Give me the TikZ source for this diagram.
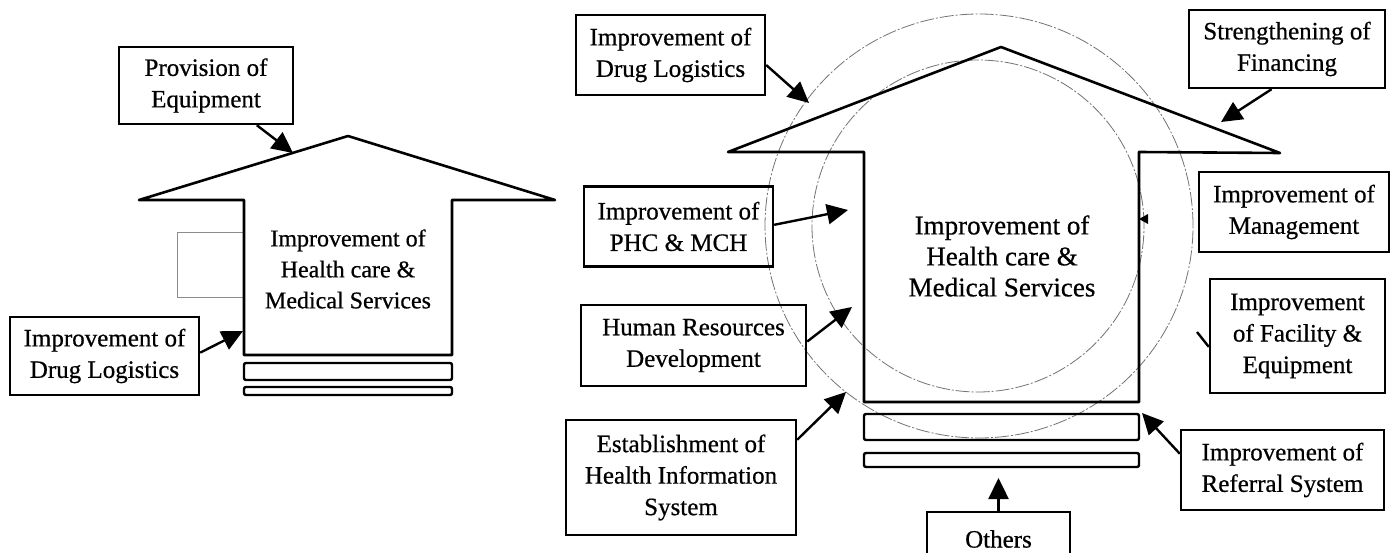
\documentclass[tikz,border=0pt]{standalone}
\usepackage{fontspec}
\setmainfont{Liberation Serif}[FakeBold=0.6]
\usetikzlibrary{arrows.meta}
\begin{document}
\begin{tikzpicture}[x=1pt,y=-1pt,
  box/.style={draw, line width=2.4pt, align=center, inner sep=0pt, font=\fontsize{25}{31.5}\selectfont},
  arr/.style={line width=2.4pt, -{Triangle[length=21pt,width=20pt]}},
  ring/.style={draw=black!55, line width=0.8pt, dash pattern=on 14pt off 2pt on 2pt off 2pt},
  house/.style={draw, line width=2.6pt, line join=round},
  bar/.style={draw, line width=2.4pt, rounded corners=2pt},
  faint/.style={draw=black!45, line width=0.9pt},
  bodytext/.style={align=center, inner sep=0pt}
]
\clip (0,0) rectangle (1396,553);
\fill[white] (0,0) rectangle (1396,553);

% ---------- left house ----------
\draw[faint] (244,232) -- (177,232) -- (177,297) -- (244,297);
\draw[house] (139,200) -- (348,136) -- (555,200) -- (452,200) -- (452,355) -- (244,355) -- (244,200) -- cycle;
\draw[bar] (244,363) rectangle (452,380);
\draw[bar] (244,387) rectangle (452,395);
\node[bodytext, font=\fontsize{24}{31}\selectfont] (ltext) at (348,269) {Improvement of\\Health care \&\\Medical Services};

\node[box, minimum width=174pt, minimum height=77pt] (prov) at (206,85.5) {Provision of\\Equipment};
\node[box, minimum width=189pt, minimum height=78pt] (ldrug) at (104.5,356) {Improvement of\\Drug Logistics};
\coordinate (tProv) at (293,153);
\coordinate (tLdrug) at (243,331);
\draw[arr] (prov.-38.7) -- (tProv);
\draw[arr] (ldrug.2.4) -- (tLdrug);

% ---------- right house ----------
\draw[ring] (979,226) ellipse[x radius=214pt, y radius=212pt];
\draw[ring] (978,226) circle[radius=166pt];
\draw[house] (728,152) -- (1001,47) -- (1280,153) -- (1139,152) -- (1139,402) -- (864,402) -- (864,152) -- cycle;
\draw[bar] (864,414) rectangle (1139,440);
\draw[bar] (864,453) rectangle (1139,467);
\node[bodytext, font=\fontsize{27}{31}\selectfont] (rtext) at (1002,256) {Improvement of\\Health care \&\\Medical Services};

\node[box, minimum width=189pt, minimum height=80pt] (rdrug) at (670.5,55) {Improvement of\\Drug Logistics};
\node[box, minimum width=196pt, minimum height=78pt] (fin) at (1287,49) {Strengthening of\\Financing};
\node[box, minimum width=189pt, minimum height=80pt] (phc) at (678.5,226.5) {Improvement of\\PHC \& MCH};
\node[box, minimum width=225pt, minimum height=81pt] (hr) at (693.5,345.5) {Human Resources\\Development};
\node[box, minimum width=230pt, minimum height=115pt] (his) at (681,477.5) {Establishment of\\Health Information\\System};
\node[box, minimum width=190pt, minimum height=80pt] (mgmt) at (1294,212) {Improvement of\\Management};
\node[box, minimum width=175pt, minimum height=114pt] (fac) at (1297.5,336) {Improvement\\of Facility \&\\Equipment};
\node[box, minimum width=203pt, minimum height=80pt] (ref) at (1282.5,470) {Improvement of\\Referral System};
\node[box, minimum width=143pt, minimum height=54pt] (oth) at (998.5,539) {Others};

\coordinate (tRdrug) at (809,103);
\coordinate (tFin) at (1221,122);
\coordinate (tPhc) at (848,210);
\coordinate (tHr) at (852,307);
\coordinate (tHis) at (846,392);
\coordinate (tRef) at (1142,413);
\coordinate (tOth) at (998.5,478);
\coordinate (fstub) at (1197,332);

\draw[arr] (rdrug.-6) -- (tRdrug);
\draw[arr] (fin.-111) -- (tFin);
\draw[arr] (phc.1) -- (tPhc);
\draw[arr] (hr.2.8) -- (tHr);
\draw[arr] (his.18) -- (tHis);
\draw[arr] (ref.171.6) -- (tRef);
\draw[arr] (oth.north) -- (tOth);
\draw[line width=2.4pt] (fac.187.8) -- (fstub);
\fill (1139,219) -- (1148,214) -- (1148,224) -- cycle;
\end{tikzpicture}
\end{document}
